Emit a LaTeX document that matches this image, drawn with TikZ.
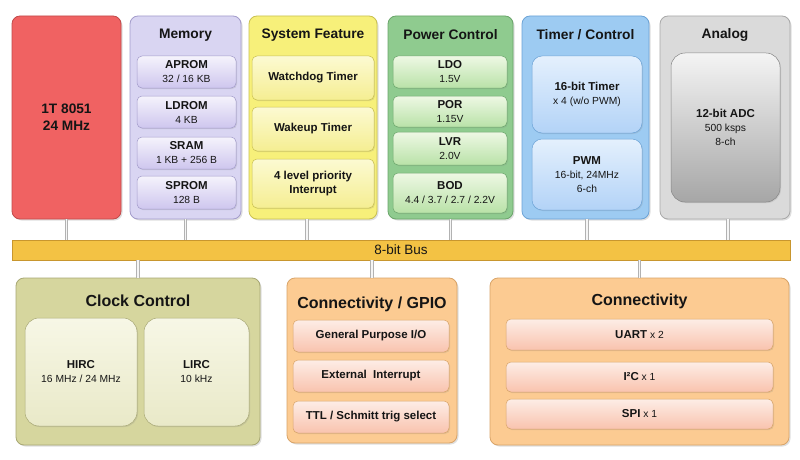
\documentclass[tikz,border=0pt]{standalone}
\usepackage{fontspec}
\setmainfont{Liberation Sans}
\usetikzlibrary{positioning,shadows}
\definecolor{cpuFill}{HTML}{F06262}\definecolor{cpuLine}{HTML}{C24A4A}
\definecolor{memFill}{HTML}{D9D5F2}\definecolor{memLine}{HTML}{A39CCB}
\definecolor{memTop}{HTML}{F5F3FC}\definecolor{memBot}{HTML}{CEC6EE}
\definecolor{sysFill}{HTML}{F7F07A}\definecolor{sysLine}{HTML}{C9C050}
\definecolor{sysTop}{HTML}{FCFAD2}\definecolor{sysBot}{HTML}{F5EE92}
\definecolor{pwrFill}{HTML}{8FCB8F}\definecolor{pwrLine}{HTML}{6AA56A}
\definecolor{pwrTop}{HTML}{EEF8E4}\definecolor{pwrBot}{HTML}{B9E2A8}
\definecolor{tmrFill}{HTML}{9DCBF2}\definecolor{tmrLine}{HTML}{6CA3D6}
\definecolor{tmrTop}{HTML}{E4F0FD}\definecolor{tmrBot}{HTML}{B3D3F7}
\definecolor{anaFill}{HTML}{DADADA}\definecolor{anaLine}{HTML}{A8A8A8}
\definecolor{anaTop}{HTML}{F4F4F4}\definecolor{anaBot}{HTML}{A6A6A6}
\definecolor{busFill}{HTML}{F3C244}\definecolor{busLine}{HTML}{C8962E}
\definecolor{clkFill}{HTML}{D6D69E}\definecolor{clkLine}{HTML}{A8A874}
\definecolor{clkTop}{HTML}{F7F7E6}\definecolor{clkBot}{HTML}{E9E9C8}
\definecolor{ioFill}{HTML}{FCCB92}\definecolor{ioLine}{HTML}{D9A468}
\definecolor{ioTop}{HTML}{FDEDE6}\definecolor{ioBot}{HTML}{F9C3AE}
\definecolor{ink}{HTML}{151515}
\tikzstyle{Group}=[rounded corners=8pt, line width=0.8pt, inner sep=0pt,
  drop shadow={opacity=0.25, shadow xshift=1.5pt, shadow yshift=-1.5pt}]
\tikzstyle{Block}=[rounded corners=5pt, line width=0.5pt, inner sep=0pt, align=center, text=ink,
  font=\fontsize{10.3}{14}\selectfont,
  drop shadow={opacity=0.2, shadow xshift=1pt, shadow yshift=-1pt}]
\tikzstyle{Title}=[text=ink, font=\bfseries\fontsize{13.8}{16}\selectfont]
\tikzstyle{BigTitle}=[text=ink, font=\bfseries\fontsize{16}{18}\selectfont]
\tikzstyle{Link}=[draw=gray!60, double=gray!8, double distance=1.6pt, line width=0.8pt]
\newcommand{\blockname}[1]{{\fontsize{11.5}{14}\bfseries #1}}
\newcommand{\blocksub}[1]{{\fontsize{10.3}{14}\selectfont #1}}
\newcommand{\blocktext}[2]{\blockname{#1}\\\blocksub{#2}}
\begin{document}
\begin{tikzpicture}[x=1pt, y=-1pt]
      \useasboundingbox[fill=white] (0,0) rectangle (800,460);
      \node[Group, draw=cpuLine, fill=cpuFill, minimum width=109pt, minimum height=203pt, align=center,
        font=\bfseries\fontsize{13.7}{17}\selectfont, text=ink] (cpu) at (66.5,117.5) {1T 8051\\24 MHz};
      \node[Group, draw=memLine, fill=memFill, minimum width=111pt, minimum height=203pt] (mem) at (185.5,117.5) {};
      \node[Title] (memT) at (185.5,35) {Memory};
      \node[Block, draw=memLine, top color=memTop, bottom color=memBot, minimum width=99pt, minimum height=32pt] (aprom) at (186.5,72) {\blocktext{APROM}{32 / 16 KB}};
      \node[Block, draw=memLine, top color=memTop, bottom color=memBot, minimum width=99pt, minimum height=32pt] (ldrom) at (186.5,112) {\blocktext{LDROM}{4 KB}};
      \node[Block, draw=memLine, top color=memTop, bottom color=memBot, minimum width=99pt, minimum height=32pt] (sram) at (186.5,153) {\blocktext{SRAM}{1 KB + 256 B}};
      \node[Block, draw=memLine, top color=memTop, bottom color=memBot, minimum width=99pt, minimum height=33pt] (sprom) at (186.5,192.5) {\blocktext{SPROM}{128 B}};
      \node[Group, draw=sysLine, fill=sysFill, minimum width=128pt, minimum height=203pt] (sys) at (313,117.5) {};
      \node[Title] (sysT) at (313,35) {System Feature};
      \node[Block, draw=sysLine, top color=sysTop, bottom color=sysBot, minimum width=122pt, minimum height=44pt] (wdt) at (313,78) {\blockname{Watchdog Timer}};
      \node[Block, draw=sysLine, top color=sysTop, bottom color=sysBot, minimum width=122pt, minimum height=44pt] (wkt) at (313,129) {\blockname{Wakeup Timer}};
      \node[Block, draw=sysLine, top color=sysTop, bottom color=sysBot, minimum width=122pt, minimum height=49pt] (irq) at (313,183.5) {\blockname{4 level priority}\\\blockname{Interrupt}};
      \node[Group, draw=pwrLine, fill=pwrFill, minimum width=125pt, minimum height=203pt] (pwr) at (450.5,117.5) {};
      \node[Title] (pwrT) at (450.5,35) {Power Control};
      \node[Block, draw=pwrLine, top color=pwrTop, bottom color=pwrBot, minimum width=114pt, minimum height=32pt] (ldo) at (450,72) {\blocktext{LDO}{1.5V}};
      \node[Block, draw=pwrLine, top color=pwrTop, bottom color=pwrBot, minimum width=114pt, minimum height=31pt] (por) at (450,111.5) {\blocktext{POR}{1.15V}};
      \node[Block, draw=pwrLine, top color=pwrTop, bottom color=pwrBot, minimum width=114pt, minimum height=33pt] (lvr) at (450,148.5) {\blocktext{LVR}{2.0V}};
      \node[Block, draw=pwrLine, top color=pwrTop, bottom color=pwrBot, minimum width=114pt, minimum height=40pt] (bod) at (450,193) {\blocktext{BOD}{4.4 / 3.7 / 2.7 / 2.2V}};
      \node[Group, draw=tmrLine, fill=tmrFill, minimum width=127pt, minimum height=203pt] (tmr) at (585.5,117.5) {};
      \node[Title] (tmrT) at (585.5,35) {Timer / Control};
      \node[Block, rounded corners=10pt, draw=tmrLine, top color=tmrTop, bottom color=tmrBot, minimum width=110pt, minimum height=77pt] (timer) at (587,94.5) {\blocktext{16-bit Timer}{x 4 (w/o PWM)}};
      \node[Block, rounded corners=10pt, draw=tmrLine, top color=tmrTop, bottom color=tmrBot, minimum width=110pt, minimum height=71pt] (pwm) at (587,174.5) {\blocktext{PWM}{16-bit, 24MHz}\\\blocksub{6-ch}};
      \node[Group, draw=anaLine, fill=anaFill, minimum width=130pt, minimum height=203pt] (ana) at (725,117.5) {};
      \node[Title] (anaT) at (725,35) {Analog};
      \node[Block, rounded corners=14pt, draw=anaLine!80!black, top color=anaTop, bottom color=anaBot, minimum width=109pt, minimum height=149pt] (adc) at (725.5,127.5) {\blocktext{12-bit ADC}{500 ksps}\\\blocksub{8-ch}};
      \node[draw=busLine, fill=busFill, line width=0.6pt, minimum width=778pt, minimum height=20pt, inner sep=0pt,
        text=ink, font=\fontsize{13.5}{15}\selectfont] (bus) at (401,250) {8-bit Bus};
      \node[Group, draw=clkLine, fill=clkFill, minimum width=244pt, minimum height=167pt] (clk) at (138,361.5) {};
      \node[BigTitle] (clkT) at (138,301) {Clock Control};
      \node[Block, rounded corners=14pt, draw=clkLine, top color=clkTop, bottom color=clkBot, minimum width=112pt, minimum height=108pt] (hirc) at (81,372) {\blocktext{HIRC}{16 MHz / 24 MHz}};
      \node[Block, rounded corners=14pt, draw=clkLine, top color=clkTop, bottom color=clkBot, minimum width=105pt, minimum height=108pt] (lirc) at (196.5,372) {\blocktext{LIRC}{10 kHz}};
      \node[Group, draw=ioLine, fill=ioFill, minimum width=170pt, minimum height=165pt] (gpio) at (372,360.5) {};
      \node[BigTitle] (gpioT) at (372,304) {Connectivity / GPIO};
      \node[Block, draw=ioLine, top color=ioTop, bottom color=ioBot, minimum width=156pt, minimum height=32pt] (gpio1) at (371,336) {\blockname{General Purpose I/O}};
      \node[Block, draw=ioLine, top color=ioTop, bottom color=ioBot, minimum width=156pt, minimum height=32pt] (gpio2) at (371,376) {\blockname{External~~Interrupt}};
      \node[Block, draw=ioLine, top color=ioTop, bottom color=ioBot, minimum width=156pt, minimum height=32pt] (gpio3) at (371,417) {\blockname{TTL / Schmitt trig select}};
      \node[Group, draw=ioLine, fill=ioFill, minimum width=299pt, minimum height=167pt] (conn) at (639.5,361.5) {};
      \node[BigTitle] (connT) at (639.5,301) {Connectivity};
      \node[Block, draw=ioLine, top color=ioTop, bottom color=ioBot, minimum width=267pt, minimum height=31pt] (uart) at (639.5,334.5) {\blockname{UART} \blocksub{x 2}};
      \node[Block, draw=ioLine, top color=ioTop, bottom color=ioBot, minimum width=267pt, minimum height=30pt] (iic) at (639.5,377) {\blockname{I²C} \blocksub{x 1}};
      \node[Block, draw=ioLine, top color=ioTop, bottom color=ioBot, minimum width=267pt, minimum height=30pt] (spi) at (639.5,414) {\blockname{SPI} \blocksub{x 1}};
      \draw[Link] (cpu.south) -- (cpu.south |- bus.north);
      \draw[Link] (mem.south) -- (mem.south |- bus.north);
      \draw[Link] ([xshift=-6pt]sys.south) -- ([xshift=-6pt]sys.south |- bus.north);
      \draw[Link] (pwr.south) -- (pwr.south |- bus.north);
      \draw[Link] ([xshift=1.5pt]tmr.south) -- ([xshift=1.5pt]tmr.south |- bus.north);
      \draw[Link] ([xshift=3pt]ana.south) -- ([xshift=3pt]ana.south |- bus.north);
      \draw[Link] (clk.north) -- (clk.north |- bus.south);
      \draw[Link] (gpio.north) -- (gpio.north |- bus.south);
      \draw[Link] (conn.north) -- (conn.north |- bus.south);
    \end{tikzpicture}
\end{document}
